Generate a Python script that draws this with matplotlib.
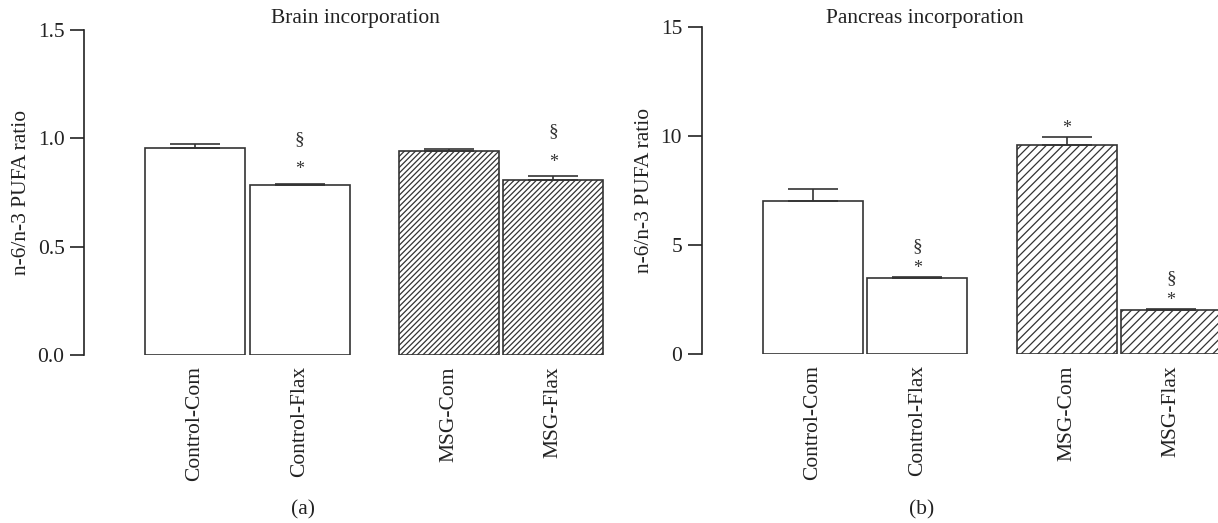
import numpy as np
import matplotlib.pyplot as plt

plt.rcParams['font.family'] = ['Liberation Serif', 'DejaVu Serif']
plt.rcParams['hatch.linewidth'] = 0.9
plt.rcParams['hatch.color'] = '#333333'

# data
groups = ['Control-Com', 'Control-Flax', 'MSG-Com', 'MSG-Flax']
hatched = [False, False, True, True]

brain_mean = [0.955, 0.783, 0.940, 0.808]
brain_err = [0.019, 0.008, 0.011, 0.019]
brain_marks = ['', '*\n§', '', '*\n§']

pancreas_mean = [7.02, 3.49, 9.60, 2.02]
pancreas_err = [0.57, 0.04, 0.38, 0.05]
pancreas_marks = ['', '*\n§', '*', '*\n§']

xpos = np.array([0, 1.045, 2.54, 3.58])
edge = '#333333'

fig = plt.figure(figsize=(12.18, 5.23), dpi=100)
ax_a = fig.add_axes([0.069, 0.321, 0.432, 0.6214])
ax_b = fig.add_axes([0.576, 0.3231, 0.424, 0.6247])


def draw(ax, means, errs, marks, ymax, step, fmt, title, title_x, hatch, offs):
    for x, m, e, h in zip(xpos, means, errs, hatched):
        ax.bar(x, m, width=1.0, color='white', edgecolor=edge, linewidth=1.2,
               hatch=hatch if h else None, zorder=2)
    ax.errorbar(xpos, means, yerr=[np.zeros(len(means)), errs], fmt='none',
                ecolor=edge, elinewidth=1.2, capsize=18, capthick=1.2, zorder=3)
    for x, m, e, s in zip(xpos, means, errs, marks):
        if not s:
            continue
        for i, ch in enumerate(s.split('\n')):
            ax.annotate(ch, (x, m + e), xytext=(0, offs[i]), textcoords='offset points',
                        ha='center', va='center', fontsize=13 if ch == '*' else 14,
                        color='#333333')
    ax.set_ylim(0, ymax)
    ax.set_yticks(np.arange(0, ymax + step / 2, step))
    ax.yaxis.set_major_formatter(plt.FormatStrFormatter(fmt))
    ax.set_xlim(-1.11, 4.15 if ymax < 5 else 4.05)
    ax.set_xticks(xpos)
    ax.set_xticklabels(groups, rotation=90, fontsize=15.5, color='#222222')
    ax.tick_params(axis='x', length=0, pad=8)
    ax.tick_params(axis='y', length=10, width=1.2, color='#222222',
                   labelsize=15.5, labelcolor='#222222', pad=4)
    for sp in ['top', 'right', 'bottom']:
        ax.spines[sp].set_visible(False)
    ax.spines['left'].set_linewidth(1.2)
    ax.spines['left'].set_color('#222222')
    ax.set_ylabel('n-6/n-3 PUFA ratio', fontsize=15.5, color='#222222')
    bb = ax.get_position()
    fig.text(bb.x0 + title_x * bb.width, 1 - 18 / 523, title, ha='center',
             va='center', fontsize=15.5, color='#222222')


draw(ax_a, brain_mean, brain_err, brain_marks, 1.5, 0.5, '%.1f',
     'Brain incorporation', 0.515, '//////', (10, 32))
draw(ax_b, pancreas_mean, pancreas_err, pancreas_marks, 15, 5, '%d',
     'Pancreas incorporation', 0.4325, '////', (6, 22))
ax_a.yaxis.set_label_coords(-0.1, 0.5)
ax_b.yaxis.set_label_coords(-0.093, 0.5)

fig.text(303 / 1218, 1 - 510 / 523, '(a)', ha='center', va='center',
         fontsize=15.5, color='#222222')
fig.text(922 / 1218, 1 - 510 / 523, '(b)', ha='center', va='center',
         fontsize=15.5, color='#222222')

fig.savefig('out.png', dpi=100)
